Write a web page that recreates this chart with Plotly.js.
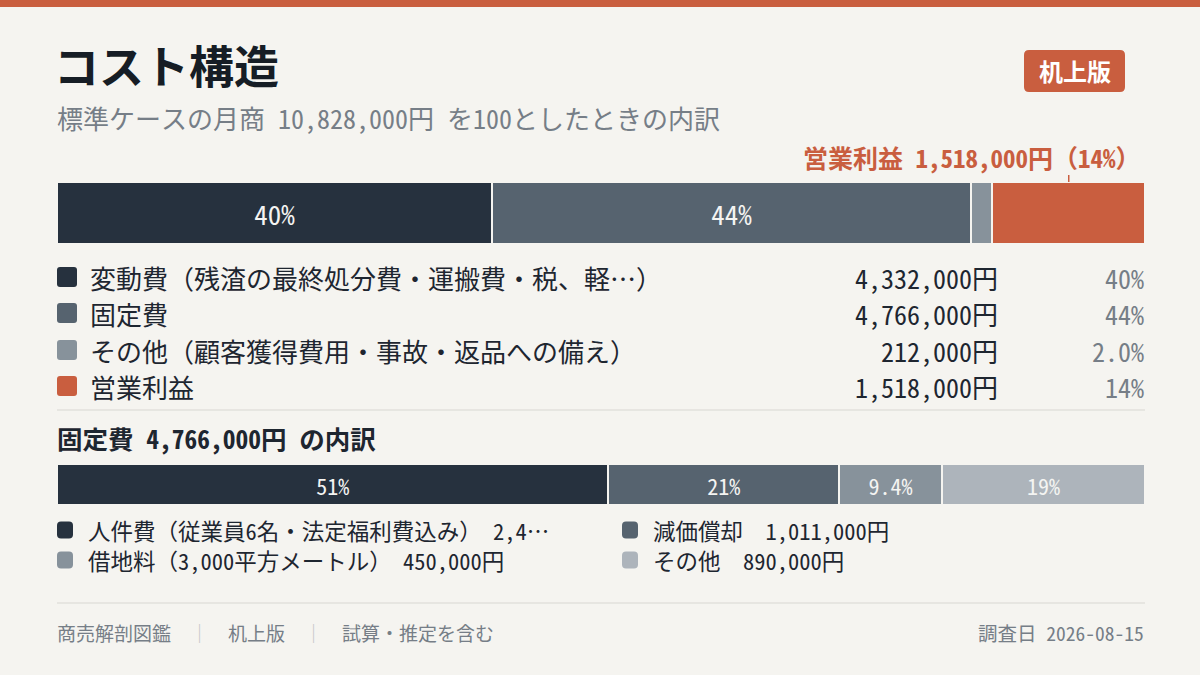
<!DOCTYPE html>
<html>
<head>
<meta charset="utf-8">
<script src="https://cdn.plot.ly/plotly-3.0.1.min.js"></script>
<style>
  html, body { margin: 0; padding: 0; background: #f5f4f0; }
  #chart { width: 1200px; height: 675px; }
</style>
</head>
<body>
<div id="chart"></div>
<script>
// 売上の内訳（円）
const costLabels = ['変動費（残渣の最終処分費・運搬費・税、軽…）', '固定費', 'その他（顧客獲得費用・事故・返品への備え）', '営業利益'];
const costValues = [4332000, 4766000, 212000, 1518000];
const costColors = ['#26313e', '#56636f', '#87929b', '#c95e3f'];

// 固定費の内訳（円）
const fixedLabels = ['人件費（従業員6名・法定福利費込み）', '減価償却', '借地料（3,000平方メートル）', 'その他'];
const fixedValues = [2415000, 1011000, 450000, 890000];
const fixedColors = ['#26313e', '#56636f', '#87929b', '#adb4bb'];

const footerItems = ['商売解剖図鑑', '机上版', '試算・推定を含む'];
const surveyDate = '2026-08-15';
const badgeText = '机上版';

const W = 1200, H = 675;
const BG = '#f5f4f0';
const ORANGE = '#c95e3f';
const INK = '#1e2630';
const GREY = '#767e87';
const FONT = '"Noto Sans Mono CJK JP", "Noto Sans CJK JP", monospace';

const px = x => x / W;
const py = y => 1 - y / H;
const sum = a => a.reduce((s, v) => s + v, 0);
const yen = v => v.toLocaleString('en-US') + '円';
const pct = (v, t) => (v / t * 100).toPrecision(2) + '%';

// 全角1、半角0.5で幅を見積もって切り詰める
function clip(str, maxUnits) {
    const w = ch => (ch.charCodeAt(0) < 256 ? 0.5 : 1);
    let total = 0;
    for (const ch of str) total += w(ch);
    if (total <= maxUnits) return str;
    let out = '', u = 0;
    for (const ch of str) {
        if (u + w(ch) > maxUnits - 1) break;
        out += ch; u += w(ch);
    }
    return out + '…';
}

function roundRect(x0, y0, x1, y1, r) {
    const rx = r / W, ry = r / H;
    const a = px(x0), b = px(x1), t = py(y0), bt = py(y1);
    return `M ${a + rx},${t} L ${b - rx},${t} Q ${b},${t} ${b},${t - ry} L ${b},${bt + ry} Q ${b},${bt} ${b - rx},${bt} ` +
        `L ${a + rx},${bt} Q ${a},${bt} ${a},${bt + ry} L ${a},${t - ry} Q ${a},${t} ${a + rx},${t} Z`;
}

const revTotal = sum(costValues);
const fixedTotal = sum(fixedValues);
const lastIdx = costValues.length - 1;

let data = [];
costValues.forEach((v, i) => {
    // 営業利益は上の注記で示すので棒の中には書かない
    const show = i !== lastIdx && v / revTotal >= 0.05;
    data.push({
        type: 'bar', orientation: 'h',
        x: [v], y: [0], width: 1,
        xaxis: 'x', yaxis: 'y',
        marker: {color: costColors[i], line: {color: BG, width: 2}},
        text: [show ? pct(v, revTotal) : ''],
        textposition: 'inside', insidetextanchor: 'middle', textangle: 0,
        textfont: {color: '#f4f4f2', size: 27, family: FONT},
        hoverinfo: 'skip'
    });
});
fixedValues.forEach((v, i) => {
    data.push({
        type: 'bar', orientation: 'h',
        x: [v], y: [0], width: 1,
        xaxis: 'x2', yaxis: 'y2',
        marker: {color: fixedColors[i], line: {color: BG, width: 2}},
        text: [v / fixedTotal >= 0.05 ? pct(v, fixedTotal) : ''],
        textposition: 'inside', insidetextanchor: 'middle', textangle: 0,
        textfont: {color: '#f4f4f2', size: 22, family: FONT},
        hoverinfo: 'skip'
    });
});

let shapes = [
    {type: 'rect', xref: 'paper', yref: 'paper', x0: 0, x1: 1, y0: py(7), y1: 1, fillcolor: ORANGE, line: {width: 0}},
    {type: 'path', xref: 'paper', yref: 'paper', path: roundRect(1024, 50, 1125, 92, 5), fillcolor: ORANGE, line: {width: 0}},
    {type: 'line', xref: 'paper', yref: 'paper', x0: px(57), x1: px(1145), y0: py(410), y1: py(410), line: {color: '#d8d7d2', width: 1}},
    {type: 'line', xref: 'paper', yref: 'paper', x0: px(57), x1: px(1145), y0: py(603), y1: py(603), line: {color: '#d8d7d2', width: 1}}
];

// 営業利益の目印
const profitMid = sum(costValues.slice(0, lastIdx)) + costValues[lastIdx] / 2;
shapes.push({type: 'line', xref: 'x', yref: 'paper', x0: profitMid, x1: profitMid, y0: py(175), y1: py(182), line: {color: ORANGE, width: 1.5}});

let annotations = [];
const note = (x, y, text, size, color, xanchor) => annotations.push({
    xref: 'paper', yref: 'paper', x: px(x), y: py(y), text: text, showarrow: false,
    xanchor: xanchor || 'left', yanchor: 'middle', font: {size: size, color: color, family: FONT}
});

note(55, 118, `標準ケースの月商 ${yen(revTotal)} を100としたときの内訳`, 26, GREY);
note(1074.5, 71, `<b>${badgeText}</b>`, 24, '#ffffff', 'center');
note(1143, 157, `<b>営業利益 ${yen(costValues[lastIdx])}（${pct(costValues[lastIdx], revTotal)}）</b>`, 25, ORANGE, 'right');

// 凡例（上段）
const rowY = [277, 313, 350, 386];
costLabels.forEach((lab, i) => {
    const y = rowY[i];
    shapes.push({type: 'path', xref: 'paper', yref: 'paper', path: roundRect(57, y - 10, 77, y + 10, 3), fillcolor: costColors[i], line: {width: 0}});
    note(88, y, lab, 26, INK);
    note(1000, y, yen(costValues[i]), 26, INK, 'right');
    note(1146, y, pct(costValues[i], revTotal), 26, GREY, 'right');
});

note(55, 437, `<b>固定費 ${yen(fixedTotal)} の内訳</b>`, 25.5, INK);

// 凡例（下段、2列）
const colX = [57, 622];
const subRowY = [530, 560];
fixedLabels.forEach((lab, i) => {
    const x = colX[i % 2], y = subRowY[Math.floor(i / 2)];
    shapes.push({type: 'path', xref: 'paper', yref: 'paper', path: roundRect(x, y - 8.5, x + 16, y + 8.5, 4), fillcolor: fixedColors[i], line: {width: 0}});
    note(x + 29, y, clip(lab + '　' + yen(fixedValues[i]), 21), 22.5, INK);
});

const sep = '<span style="color:#c4c6c9">　｜　</span>';
note(55, 632, footerItems.join(sep), 19, GREY);
note(1146, 632, `調査日 ${surveyDate}`, 19.5, GREY, 'right');

let layout = {
    width: W, height: H,
    margin: {l: 0, r: 0, t: 0, b: 0, pad: 0},
    paper_bgcolor: BG, plot_bgcolor: 'rgba(0,0,0,0)',
    font: {family: FONT, color: INK},
    title: {
        text: '<b>コスト構造</b>', x: px(54), xanchor: 'left', xref: 'paper',
        y: py(68), yanchor: 'middle', yref: 'paper',
        font: {size: 45, color: '#161d25', family: FONT}
    },
    barmode: 'stack', bargap: 0,
    showlegend: false,
    xaxis: {domain: [px(57), px(1145)], range: [0, revTotal], visible: false, fixedrange: true},
    yaxis: {domain: [py(244), py(182)], range: [-0.5, 0.5], visible: false, fixedrange: true},
    xaxis2: {domain: [px(57), px(1145)], range: [0, fixedTotal], visible: false, anchor: 'y2', fixedrange: true},
    yaxis2: {domain: [py(505), py(464)], range: [-0.5, 0.5], visible: false, anchor: 'x2', fixedrange: true},
    shapes: shapes,
    annotations: annotations
};

Plotly.newPlot('chart', data, layout, {displayModeBar: false, staticPlot: true});
</script>
</body>
</html>
